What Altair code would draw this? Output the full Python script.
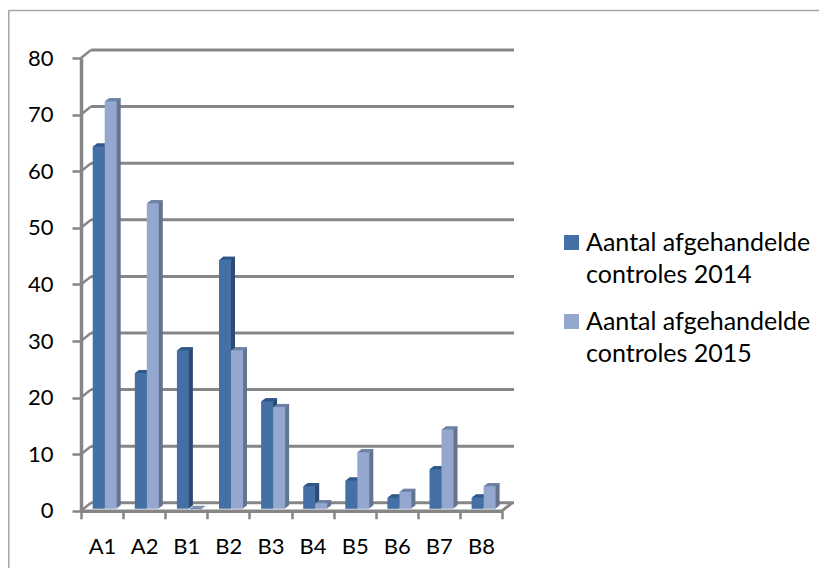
import altair as alt
import pandas as pd

categories = ["A1", "A2", "B1", "B2", "B3", "B4", "B5", "B6", "B7", "B8"]
values_2014 = [64, 24, 28, 44, 19, 4, 5, 2, 7, 2]
values_2015 = [72, 54, 0, 28, 18, 1, 10, 3, 14, 4]
series_names = ["Aantal afgehandelde controles 2014", "Aantal afgehandelde controles 2015"]
y_ticks = [0, 10, 20, 30, 40, 50, 60, 70, 80]
front_colors = ["#4470A5", "#93A7CF"]
side_colors = ["#2B4B70", "#64748F"]
top_colors = ["#31598A", "#6F84AA"]

GREY = "#868686"
FONT = "Lato"
W, H = 421, 452.8
PL, PT = 73, 50
TOTAL_W, TOTAL_H = 811, 560
BAR_W = 12
LIFT = -2

df = pd.DataFrame(
    [{"cat": c, "series": series_names[0], "v": v} for c, v in zip(categories, values_2014)]
    + [{"cat": c, "series": series_names[1], "v": v} for c, v in zip(categories, values_2015)]
)
ticks_df = pd.DataFrame({"t": y_ticks})

x_enc = alt.X("cat:N", sort=categories, scale=alt.Scale(paddingInner=0, paddingOuter=0, align=0),
              axis=alt.Axis(title=None, labelAngle=0, tickBand="extent", tickSize=8, tickWidth=2.5, tickColor=GREY,
                            domainColor=GREY, domainWidth=3.5, labelFont=FONT, labelFontSize=22, labelColor="#000",
                            labelPadding=18, grid=False))
y_scale = alt.Scale(domain=[0, 80], nice=False, zero=True)
y_axis = alt.Axis(title=None, values=y_ticks, tickSize=9, tickWidth=2.5, tickColor=GREY, domainColor=GREY,
                  domainWidth=3.5, labelFont=FONT, labelFontSize=22, labelColor="#000", labelPadding=19, grid=False)
y_enc = alt.Y("v:Q", scale=y_scale, axis=y_axis)
y_t = alt.Y("t:Q", scale=y_scale, axis=y_axis)

grid = alt.Chart(ticks_df).mark_rule(color=GREY, strokeWidth=3, yOffset=-8, y2Offset=-8).encode(
    y=y_t, y2="t:Q", x=alt.value(10), x2=alt.value(W + 12))
diag = alt.Chart(ticks_df).mark_rule(color=GREY, strokeWidth=2.5, y2Offset=-8).encode(
    y=y_t, y2="t:Q", x=alt.value(0), x2=alt.value(10))
diag_r = alt.Chart(ticks_df[ticks_df.t == 0]).mark_rule(color=GREY, strokeWidth=3, y2Offset=-8).encode(
    y=y_t, y2="t:Q", x=alt.value(W), x2=alt.value(W + 10))

one = pd.DataFrame({"f": [0]})
frame_top = alt.Chart(one).mark_rule(color="#A6A6A6", strokeWidth=1.5).encode(
    x=alt.value(0.5 - PL), x2=alt.value(TOTAL_W - PL), y=alt.value(2.5 - PT))
frame_left = alt.Chart(one).mark_rule(color="#A6A6A6", strokeWidth=1.5).encode(
    x=alt.value(0.8 - PL), y=alt.value(2.5 - PT), y2=alt.value(TOTAL_H - PT))

layers = [frame_top, frame_left, grid, diag, diag_r]
STEPS = [4, 3, 2, 1]
BAND_HALF = W / 10 / 2
for si, s in enumerate(series_names):
    base = alt.Chart(df).transform_filter(alt.datum.series == s)
    shift = 11.7 + BAR_W / 2 - BAND_HALF + si * BAR_W
    for i in STEPS:
        dy = -0.75 * i
        layers.append(base.mark_bar(color=side_colors[si], width=BAR_W, xOffset=shift + i, yOffset=dy + LIFT, y2Offset=dy).encode(
            x=x_enc, y=y_enc))
    for i in STEPS:
        dy = -0.75 * i + LIFT
        layers.append(base.mark_bar(color=top_colors[si], width=BAR_W, xOffset=shift + i, yOffset=dy, y2Offset=dy + 1).encode(
            x=x_enc, y=y_enc, y2="v:Q"))

color_enc = alt.Color("series:N", scale=alt.Scale(domain=series_names, range=front_colors),
                      legend=alt.Legend(title=None, orient="none", legendX=559 - 8 - PL, legendY=230 - 8 - PT,
                                        labelFont=FONT, labelFontSize=25, labelColor="#000", symbolType="square",
                                        symbolSize=225, symbolStrokeWidth=0, labelLimit=400, rowPadding=21, labelOffset=2,
                                        labelExpr="[slice(datum.label, 0, 19), slice(datum.label, 20)]"))
for si, s in enumerate(series_names):
    shift = 11.7 + BAR_W / 2 - BAND_HALF + si * BAR_W
    layers.append(alt.Chart(df).transform_filter(alt.datum.series == s).mark_bar(width=BAR_W, xOffset=shift, yOffset=LIFT, y2Offset=0).encode(
        x=x_enc, y=y_enc, color=color_enc))

chart = alt.layer(*layers).properties(
    width=W, height=H, autosize=alt.AutoSizeParams(type="none"),
    padding={"left": PL, "top": PT, "right": TOTAL_W - PL - W, "bottom": TOTAL_H - PT - H},
    config=alt.Config(view=alt.ViewConfig(stroke=None), style={"guide-label": {"lineHeight": 32}}),
)

chart.save("out.html", embed_options={"renderer": "svg", "actions": False})
